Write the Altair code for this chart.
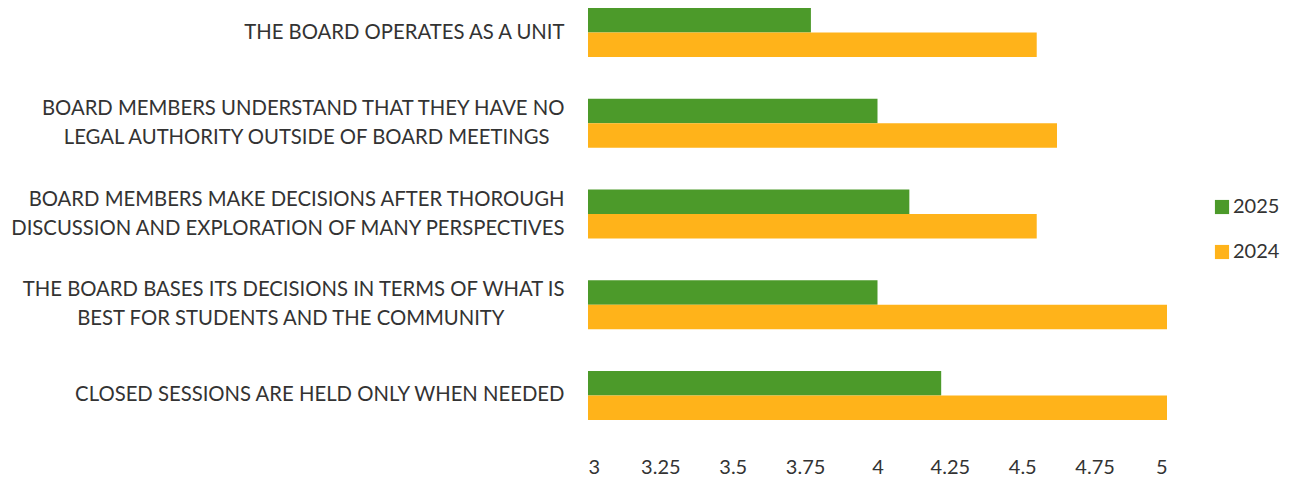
import altair as alt
import pandas as pd

PAD = "\u2800"  # blank filler so the shorter line of a two-line label sits centred
categories = [
    "THE BOARD OPERATES AS A UNIT",
    "BOARD MEMBERS UNDERSTAND THAT THEY HAVE NO|LEGAL AUTHORITY OUTSIDE OF BOARD MEETINGS" + PAD,
    "BOARD MEMBERS MAKE DECISIONS AFTER THOROUGH|DISCUSSION AND EXPLORATION OF MANY PERSPECTIVES",
    "THE BOARD BASES ITS DECISIONS IN TERMS OF WHAT IS|BEST FOR STUDENTS AND THE COMMUNITY" + PAD * 4,
    "CLOSED SESSIONS ARE HELD ONLY WHEN NEEDED",
]
values_2025 = [3.77, 4.0, 4.11, 4.0, 4.22]
values_2024 = [4.55, 4.62, 4.55, 5.0, 5.0]
series = ["2025", "2024"]
colors = ["#4C9A2A", "#FFB31A"]
x_ticks = [3, 3.25, 3.5, 3.75, 4, 4.25, 4.5, 4.75, 5]

rows = []
for c, a, b in zip(categories, values_2025, values_2024):
    rows.append({"category": c, "year": "2025", "value": a})
    rows.append({"category": c, "year": "2024", "value": b})
df = pd.DataFrame(rows)

FONT = "Lato"
TXT = "#333333"

chart = alt.Chart(df).mark_bar().encode(
    y=alt.Y("category:N", sort=categories, title=None,
            scale=alt.Scale(paddingInner=0.46, paddingOuter=0),
            axis=alt.Axis(labelExpr="split(datum.label, '|')", labelAlign="right",
                          labelOffset=alt.ExprRef("indexof(datum.value, '|') >= 0 ? -14.5 : 0"),
                          labelPadding=24, labelLineHeight=29, labelFontSize=20.3,
                          labelFont=FONT, labelColor=TXT, ticks=False, domain=False,
                          labelLimit=0)),
    yOffset=alt.YOffset("year:N", sort=series),
    x=alt.X("value:Q", title=None,
            scale=alt.Scale(domain=[3, 5], zero=False, nice=False),
            axis=alt.Axis(values=x_ticks, labelExpr="datum.value + ''", grid=False,
                          domain=False, ticks=False,
                          labelPadding=37, labelFontSize=20, labelFont=FONT, labelColor=TXT)),
    x2=alt.datum(3),
    color=alt.Color("year:N", sort=series,
                    scale=alt.Scale(domain=series, range=colors),
                    legend=alt.Legend(title=None, orient="none", legendX=624, legendY=189,
                                      symbolType="square", symbolSize=200, symbolStrokeWidth=0,
                                      labelFontSize=20, labelFont=FONT, labelColor=TXT,
                                      labelOffset=1, rowPadding=25, padding=0, symbolOpacity=1)),
).properties(width=579, height=412, padding=0).configure(
    background="white", view=alt.ViewConfig(strokeWidth=0, stroke="transparent"))

chart.save("out.html", embed_options={"renderer": "svg", "actions": False})
